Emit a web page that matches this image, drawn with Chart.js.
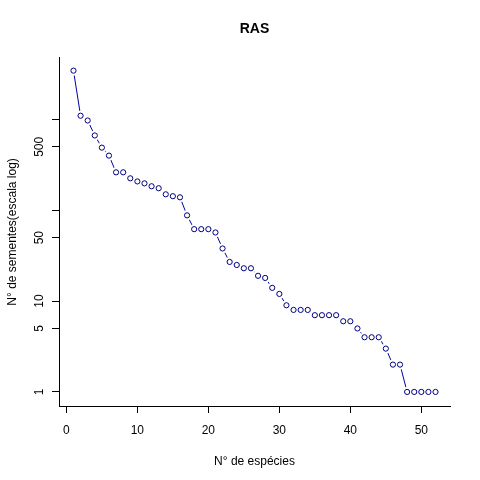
<!DOCTYPE html>
<html>
<head>
	<meta charset="utf-8">
	<title>RAS</title>
	<script src="https://cdn.jsdelivr.net/npm/chart.js@4/dist/chart.umd.min.js"></script>
	<style>
		body { margin: 0; background: #fff; }
	</style>
</head>
<body>

	<canvas id="mychart" width="480" height="480"></canvas>

	<script type="text/javascript">

		// species rank (x) and number of seeds (y, log scale)
		const especies = [1, 2, 3, 4, 5, 6, 7, 8, 9, 10, 11, 12, 13, 14, 15, 16, 17, 18, 19, 20, 21, 22, 23, 24, 25, 26,
			27, 28, 29, 30, 31, 32, 33, 34, 35, 36, 37, 38, 39, 40, 41, 42, 43, 44, 45, 46, 47, 48, 49, 50, 51, 52];
		const sementes = [3450, 1100, 975, 667, 490, 400, 262, 262, 225, 208,
			198, 184, 175, 150, 143, 139, 88, 62, 62, 62,
			57, 38, 27, 25, 23, 23, 19, 18, 14, 12,
			9, 8, 8, 8, 7, 7, 7, 7, 6, 6,
			5, 4, 4, 4, 3, 2, 2, 1, 1, 1,
			1, 1];

		const xTicks = [0, 10, 20, 30, 40, 50];
		const yTicks = [1, 5, 10, 50, 100, 500, 1000];
		const yTickLabels = ['1', '5', '10', '50', '', '500', ''];

		const FONT = 'Liberation Sans, Arial, sans-serif';

		// R-like 4% extension of the ranges
		const xMin = Math.min(...especies), xMax = Math.max(...especies);
		const xPad = (xMax - xMin) * 0.04;
		const lMin = Math.log10(Math.min(...sementes)), lMax = Math.log10(Math.max(...sementes));
		const lPad = (lMax - lMin) * 0.04;

		const points = especies.map((x, i) => ({ x: x, y: sementes[i] }));

		// rotated y tick labels, like R's default las=0
		const yLabelsPlugin = {
			id: 'yLabels',
			afterDraw(chart) {
				const ctx = chart.ctx;
				const y = chart.scales.y;
				ctx.save();
				ctx.fillStyle = '#000';
				ctx.font = '12px ' + FONT;
				ctx.textAlign = 'center';
				ctx.textBaseline = 'middle';
				yTicks.forEach((v, i) => {
					if (!yTickLabels[i]) return;
					ctx.save();
					ctx.translate(40, y.getPixelForValue(v));
					ctx.rotate(-Math.PI / 2);
					ctx.fillText(yTickLabels[i], 0, 0);
					ctx.restore();
				});
				ctx.restore();
			}
		};

		const ctx = document.getElementById('mychart').getContext('2d');

		const myChart = new Chart(ctx, {
			type: 'scatter',
			data: {
				datasets: [
				{
					// markers
					data: points,
					showLine: false,
					pointRadius: 2.6,
					pointBorderWidth: 1,
					pointBorderColor: '#000080',
					pointBackgroundColor: '#ffffff',
					order: 1
				},
				{
					// white gaps round the points (type = "b")
					data: points,
					showLine: false,
					pointRadius: 5,
					pointBorderWidth: 0,
					pointBorderColor: '#ffffff',
					pointBackgroundColor: '#ffffff',
					order: 2
				},
				{
					data: points,
					showLine: true,
					borderColor: '#0000a0',
					borderWidth: 1,
					pointRadius: 0,
					fill: false,
					order: 3
				}
			]},
			options: {
				responsive: false,
				devicePixelRatio: 1,
				animation: false,
				events: [],
				layout: { padding: { left: 0, right: 30, top: 0, bottom: 0 } },
				plugins: {
					legend: { display: false },
					tooltip: { enabled: false },
					title: {
						display: true,
						text: 'RAS',
						fullSize: false,
						color: '#000',
						font: { family: FONT, size: 14, weight: 'bold', lineHeight: 1.2 },
						padding: { top: 21, bottom: 20 }
					}
				},
				scales: {
					x: {
						type: 'linear',
						min: xMin - xPad,
						max: xMax + xPad,
						afterBuildTicks: s => { s.ticks = xTicks.map(v => ({ value: v })); },
						afterFit: s => { s.height = 74; },
						grid: { drawOnChartArea: false, drawTicks: true, tickLength: 7, tickColor: '#000' },
						border: { display: true, color: '#000', width: 1 },
						ticks: { color: '#000', font: { family: FONT, size: 12 }, padding: 10, maxRotation: 0 },
						title: {
							display: true,
							text: 'N° de espécies',
							color: '#000',
							font: { family: FONT, size: 12 },
							padding: { top: 0, bottom: 11 }
						}
					},
					y: {
						type: 'logarithmic',
						min: Math.pow(10, lMin - lPad),
						max: Math.pow(10, lMax + lPad),
						afterBuildTicks: s => { s.ticks = yTicks.map(v => ({ value: v })); },
						afterFit: s => { s.width = 59; },
						grid: { drawOnChartArea: false, drawTicks: true, tickLength: 7, tickColor: '#000' },
						border: { display: true, color: '#000', width: 1 },
						ticks: { display: false },
						title: {
							display: true,
							text: 'N° de sementes(escala log)',
							color: '#000',
							font: { family: FONT, size: 12 },
							padding: { top: 5, bottom: 0 }
						}
					}
				}
			},
			plugins: [yLabelsPlugin]
		});

	</script>

</body>
</html>
